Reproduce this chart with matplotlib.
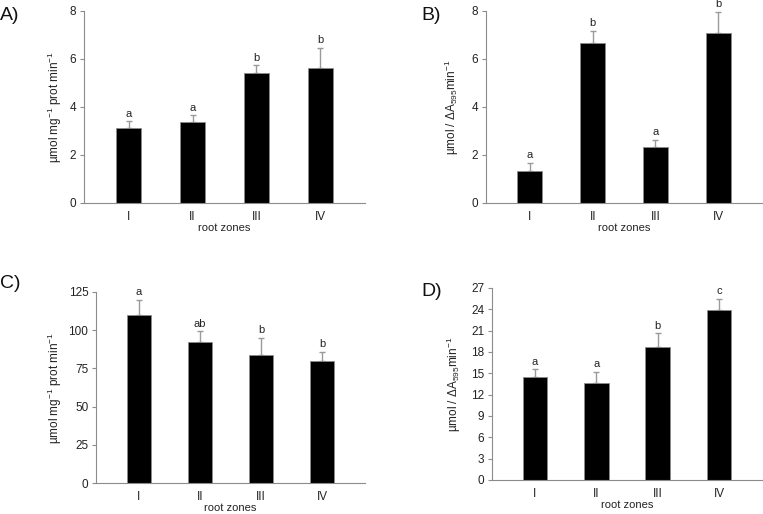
import matplotlib
matplotlib.use("Agg")
import matplotlib.pyplot as plt

plt.rcParams['font.family'] = ['Liberation Sans', 'DejaVu Sans']
plt.rcParams['mathtext.default'] = 'regular'

# Data
zones = ['I', 'II', 'III', 'IV']

a_vals = [3.12, 3.36, 5.40, 5.61]
a_err = [0.28, 0.29, 0.34, 0.86]
a_sig = ['a', 'a', 'b', 'b']

b_vals = [1.35, 6.68, 2.35, 7.07]
b_err = [0.33, 0.49, 0.29, 0.90]
b_sig = ['a', 'b', 'a', 'b']

c_vals = [110.0, 92.0, 84.0, 79.8]
c_err = [10.0, 7.2, 11.1, 6.0]
c_sig = ['a', 'ab', 'b', 'b']

d_vals = [14.46, 13.6, 18.7, 23.94]
d_err = [1.14, 1.6, 1.96, 1.56]
d_sig = ['a', 'a', 'b', 'c']

ylab_prot = r'µmol mg$^{-1}$ prot min$^{-1}$'
ylab_abs = r'µmol / ΔA$_{595}$min$^{-1}$'

W, H = 763, 514
fig = plt.figure(figsize=(W / 100, H / 100), dpi=100)

gray = '#8c8c8c'
txt = '#222222'


def panel(px, label, lab_xy, ylab_x, vals, err, sig, ylim, yticks, ylabel):
    # px = (left, top, right, bottom) in pixels
    l, t, r, b = px
    ax = fig.add_axes([l / W, 1 - b / H, (r - l) / W, (b - t) / H])
    x = list(range(len(zones)))
    ax.bar(x, vals, width=0.4, color='black', edgecolor=gray, linewidth=0.6, zorder=2)
    ax.errorbar(x, vals, yerr=[[0] * len(err), err], fmt='none', ecolor='#9a9a9a',
                elinewidth=1.0, capsize=2.3, capthick=1.0, zorder=1)
    for xi, v, e, s in zip(x, vals, err, sig):
        ax.annotate(s, (xi, v + e), xytext=(0, 1.8), textcoords='offset points',
                    ha='center', va='bottom', fontsize=8, color=txt,
                    annotation_clip=False)
    ax.set_xlim(-0.7, 3.7)
    ax.set_ylim(*ylim)
    ax.set_yticks(yticks)
    ax.set_xticks(x)
    ax.set_xticklabels(zones)
    for side in ['top', 'right']:
        ax.spines[side].set_visible(False)
    for side in ['left', 'bottom']:
        ax.spines[side].set_color(gray)
        ax.spines[side].set_linewidth(0.8)
    ax.tick_params(axis='x', length=0, labelsize=8.5, pad=6, colors=txt)
    ax.tick_params(axis='y', length=3, width=0.8, color=gray, labelsize=8.5,
                   pad=2.5, labelcolor=txt)
    ax.set_xlabel('root zones', fontsize=8, labelpad=0, color=txt)
    ax.set_ylabel(ylabel, fontsize=8.5, color=txt)
    ax.yaxis.set_label_coords((ylab_x - l) / (r - l), 0.5)
    fig.text(lab_xy[0] / W, 1 - lab_xy[1] / H, label, fontsize=14,
             ha='left', va='center', color='#111111')
    return ax


panel((84, 11, 365, 203), 'A)', (0, 15), 64, a_vals, a_err, a_sig,
      (0, 8), [0, 2, 4, 6, 8], ylab_prot)
panel((486, 11, 762, 203), 'B)', (421, 15), 461, b_vals, b_err, b_sig,
      (0, 8), [0, 2, 4, 6, 8], ylab_abs)
panel((96, 292, 365, 483), 'C)', (0, 283), 64, c_vals, c_err, c_sig,
      (0, 125), [0, 25, 50, 75, 100, 125], ylab_prot)
panel((492, 288, 762, 480), 'D)', (421, 291), 463, d_vals, d_err, d_sig,
      (0, 27), list(range(0, 28, 3)), ylab_abs)

fig.savefig('out.png', dpi=100, facecolor='white')
